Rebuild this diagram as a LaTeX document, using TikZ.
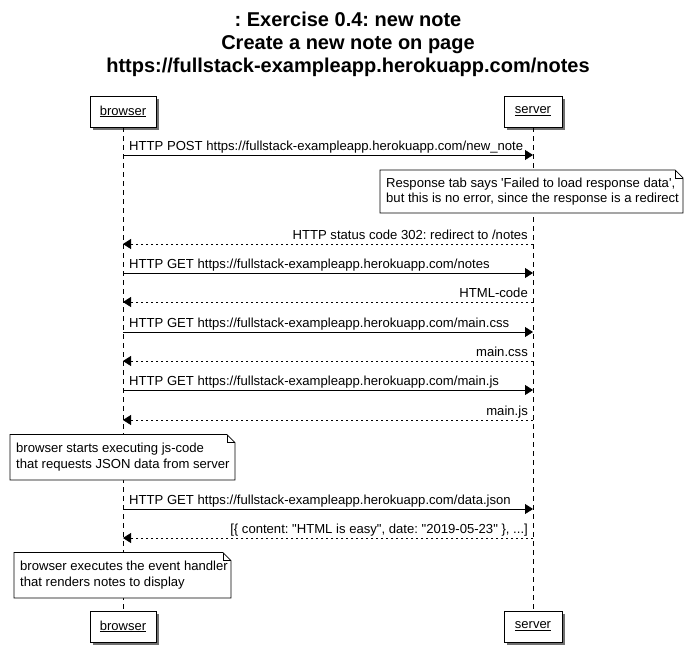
\documentclass[tikz,border=0pt]{standalone}
\usepackage{fontspec}
\setmainfont{Liberation Sans}[Ligatures=TeXOff]
\frenchspacing
\usetikzlibrary{arrows.meta,shadows}
\tikzset{
  x=1pt, y=-1pt,
  actor/.style={draw=black, fill=white, line width=0.8pt, minimum height=31pt, inner sep=0pt,
    font=\fontsize{13}{15}\selectfont,
    drop shadow={shadow xshift=3pt, shadow yshift=-3pt, fill=black!70, opacity=0.8}},
  lifeline/.style={draw=black, line width=0.7pt, dash pattern=on 5pt off 4pt},
  msg/.style={draw=black, line width=0.8pt, -{Triangle[length=8pt,width=10pt]}},
  ret/.style={msg, dash pattern=on 2.5pt off 2.5pt},
  lbl/.style={font=\fontsize{13.1}{15}\selectfont, inner sep=0pt},
  notetext/.style={align=left, inner sep=0pt, font=\fontsize{13.1}{15.5}\selectfont, anchor=west},
  noteline/.style={draw=black, fill=white, line width=0.7pt},
  titlestyle/.style={font=\bfseries\fontsize{20}{23}\selectfont, align=center, inner sep=0pt}
}
\newcommand{\ulname}[1]{\underline{#1}}
\begin{document}
\begin{tikzpicture}
\useasboundingbox (0,0) rectangle (695,667);
\node[titlestyle] (title) at (348,44) {: Exercise 0.4: new note\\Create a new note on page\\https://fullstack-exampleapp.herokuapp.com/notes};

% participants
\node[actor, minimum width=66pt] (bt) at (123,111.5) {\ulname{browser}};
\node[actor, minimum width=58pt] (st) at (533,111.5) {\ulname{server}};
\node[actor, minimum width=66pt] (bb) at (123,626.5) {\ulname{browser}};
\node[actor, minimum width=58pt] (sb) at (533,626.5) {\ulname{server}};

% lifelines
\draw[lifeline] (bt.south) -- (bb.north);
\draw[lifeline] (st.south) -- (sb.north);

% coordinates of message ends
\foreach \i/\y in {1/155,3/244,4/273,5/302,6/332,7/361,8/390,9/420,11/509,12/538}{
  \coordinate (b\i) at (123,\y);
  \coordinate (s\i) at (533,\y);
}

% 1
\draw[msg] (b1) -- (s1);
\node[lbl, anchor=base west] (l1) at ([xshift=6pt,yshift=4.5pt]b1) {HTTP POST https://fullstack-exampleapp.herokuapp.com/new\_note};

% note 1  (corners: bottom-left, top-right)
\coordinate (n1bl) at (380,213);
\coordinate (n1tr) at (683,170);
\draw[noteline] (n1bl) -- (n1bl |- n1tr) -- ([xshift=-8pt]n1tr) -- ([yshift=-8pt]n1tr) -- (n1tr |- n1bl) -- cycle;
\draw[noteline, fill=none] ([xshift=-8pt]n1tr) -- ([xshift=-8pt,yshift=-8pt]n1tr) -- ([yshift=-8pt]n1tr);
\node[notetext] (n1) at (386,191.5) {Response tab says 'Failed to load response data',\\but this is no error, since the response is a redirect};

% 3
\draw[ret] (s3) -- (b3);
\node[lbl, anchor=base east] (l3) at ([xshift=-5pt,yshift=4.5pt]s3) {HTTP status code 302: redirect to /notes};
% 4
\draw[msg] (b4) -- (s4);
\node[lbl, anchor=base west] (l4) at ([xshift=6pt,yshift=4.5pt]b4) {HTTP GET https://fullstack-exampleapp.herokuapp.com/notes};
% 5
\draw[ret] (s5) -- (b5);
\node[lbl, anchor=base east] (l5) at ([xshift=-5pt,yshift=4.5pt]s5) {HTML-code};
% 6
\draw[msg] (b6) -- (s6);
\node[lbl, anchor=base west] (l6) at ([xshift=6pt,yshift=4.5pt]b6) {HTTP GET https://fullstack-exampleapp.herokuapp.com/main.css};
% 7
\draw[ret] (s7) -- (b7);
\node[lbl, anchor=base east] (l7) at ([xshift=-5pt,yshift=4.5pt]s7) {main.css};
% 8
\draw[msg] (b8) -- (s8);
\node[lbl, anchor=base west] (l8) at ([xshift=6pt,yshift=4.5pt]b8) {HTTP GET https://fullstack-exampleapp.herokuapp.com/main.js};
% 9
\draw[ret] (s9) -- (b9);
\node[lbl, anchor=base east] (l9) at ([xshift=-5pt,yshift=4.5pt]s9) {main.js};

% note 2
\coordinate (n2bl) at (10,480);
\coordinate (n2tr) at (235,434.5);
\draw[noteline] (n2bl) -- (n2bl |- n2tr) -- ([xshift=-8pt]n2tr) -- ([yshift=-8pt]n2tr) -- (n2tr |- n2bl) -- cycle;
\draw[noteline, fill=none] ([xshift=-8pt]n2tr) -- ([xshift=-8pt,yshift=-8pt]n2tr) -- ([yshift=-8pt]n2tr);
\node[notetext] (n2) at (16,457.3) {browser starts executing js-code\\that requests JSON data from server};

% 11
\draw[msg] (b11) -- (s11);
\node[lbl, anchor=base west] (l11) at ([xshift=6pt,yshift=4.5pt]b11) {HTTP GET https://fullstack-exampleapp.herokuapp.com/data.json};
% 12
\draw[ret] (s12) -- (b12);
\node[lbl, anchor=base east] (l12) at ([xshift=-5pt,yshift=4.5pt]s12) {[\{ content: "HTML is easy", date: "2019-05-23" \}, ...]};

% note 3
\coordinate (n3bl) at (14,598);
\coordinate (n3tr) at (231,552.5);
\draw[noteline] (n3bl) -- (n3bl |- n3tr) -- ([xshift=-8pt]n3tr) -- ([yshift=-8pt]n3tr) -- (n3tr |- n3bl) -- cycle;
\draw[noteline, fill=none] ([xshift=-8pt]n3tr) -- ([xshift=-8pt,yshift=-8pt]n3tr) -- ([yshift=-8pt]n3tr);
\node[notetext] (n3) at (20,575.3) {browser executes the event handler\\that renders notes to display};
\end{tikzpicture}
\end{document}
